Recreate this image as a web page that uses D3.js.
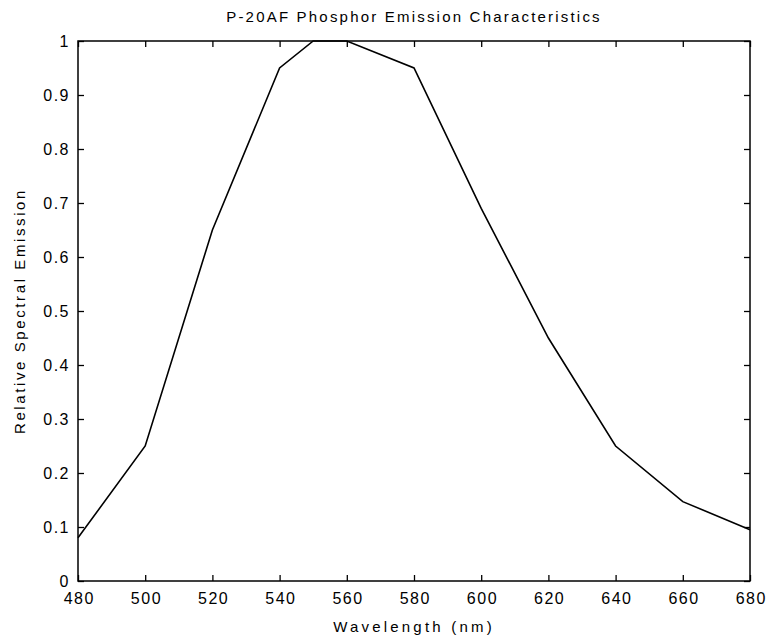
<!DOCTYPE html>
<html><head><meta charset="utf-8">
<script src="https://cdn.jsdelivr.net/npm/d3@7"></script>
<style>body{margin:0;background:#fff}</style>
</head><body>
<svg id="c" width="767" height="640"></svg>
<script>
const wavelengths = [480, 500, 520, 540, 550, 560, 580, 600, 620, 640, 660, 680];
const emission    = [0.08, 0.25, 0.65, 0.95, 1.0, 1.0, 0.95, 0.69, 0.45, 0.25, 0.147, 0.095];
const xTicks = [480, 500, 520, 540, 560, 580, 600, 620, 640, 660, 680];
const yTicks = [0, 0.1, 0.2, 0.3, 0.4, 0.5, 0.6, 0.7, 0.8, 0.9, 1];
const title = "P-20AF Phosphor Emission Characteristics";
const xLabel = "Wavelength (nm)";
const yLabel = "Relative Spectral Emission";

const m = {l: 78, r: 750, t: 41, b: 581};
const svg = d3.select("#c");
const x = d3.scaleLinear().domain([480, 680]).range([m.l, m.r]);
const y = d3.scaleLinear().domain([0, 1]).range([m.b, m.t]);
const font = "'Liberation Sans', Arial, sans-serif";

function style(g){
  g.selectAll("path.domain").remove();
  g.selectAll("line").attr("stroke", "#000").attr("stroke-width", 1.3);
  g.selectAll("text").attr("font-family", font).attr("font-size", 16)
    .attr("letter-spacing", 1.5).attr("fill", "#000");
}
// bottom
const gx = svg.append("g").attr("transform", `translate(0,${m.b})`)
  .call(d3.axisBottom(x).tickValues(xTicks).tickFormat(d3.format("d")).tickSizeInner(-6).tickSizeOuter(0).tickPadding(12))
  .call(style);
gx.selectAll("text").attr("dx", 0.75);
// top
svg.append("g").attr("transform", `translate(0,${m.t})`)
  .call(d3.axisTop(x).tickValues(xTicks).tickFormat("").tickSizeInner(-6).tickSizeOuter(0))
  .call(style);
// left
svg.append("g").attr("transform", `translate(${m.l},0)`)
  .call(d3.axisLeft(y).tickValues(yTicks).tickFormat(d => d3.format("")(+d.toFixed(1))).tickSizeInner(-6).tickSizeOuter(0).tickPadding(8))
  .call(style);
// right
svg.append("g").attr("transform", `translate(${m.r},0)`)
  .call(d3.axisRight(y).tickValues(yTicks).tickFormat("").tickSizeInner(-6).tickSizeOuter(0))
  .call(style);

// frame
svg.append("rect").attr("x", m.l).attr("y", m.t).attr("width", m.r - m.l).attr("height", m.b - m.t)
  .attr("fill", "none").attr("stroke", "#000").attr("stroke-width", 1.5);

// line
svg.append("path").datum(wavelengths.map((w, i) => [w, emission[i]]))
  .attr("fill", "none").attr("stroke", "#000").attr("stroke-width", 1.6)
  .attr("d", d3.line().x(d => x(d[0])).y(d => y(d[1])));

// texts
svg.append("text").attr("x", (m.l + m.r) / 2).attr("y", 22).attr("text-anchor", "middle")
  .attr("font-family", font).attr("font-size", 15).attr("letter-spacing", 2.2).text(title);
svg.append("text").attr("x", (m.l + m.r) / 2).attr("y", 632).attr("text-anchor", "middle")
  .attr("font-family", font).attr("font-size", 15).attr("letter-spacing", 3.2).text(xLabel);
svg.append("text").attr("transform", `translate(25,${(m.t + m.b) / 2}) rotate(-90)`).attr("text-anchor", "middle")
  .attr("font-family", font).attr("font-size", 15).attr("letter-spacing", 2.6).text(yLabel);
</script>
</body></html>
